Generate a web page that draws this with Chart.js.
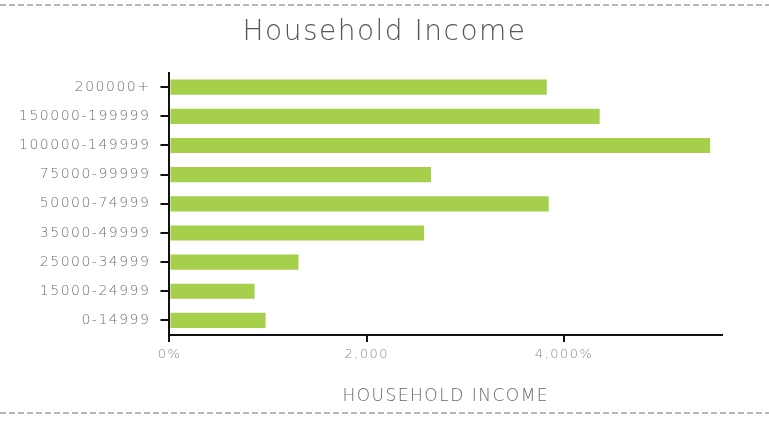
<!DOCTYPE html>
<html>
<head>
<meta charset="utf-8">
<script src="https://cdn.jsdelivr.net/npm/chart.js@4/dist/chart.umd.min.js"></script>
<style>
  html, body { margin: 0; padding: 0; background: #fff; }
  #wrap { width: 769px; height: 422px; }
</style>
</head>
<body>
<div id="wrap"><canvas id="myChart" width="769" height="422"></canvas></div>
<script>
const kategorie = ['200000+', '150000-199999', '100000-149999', '75000-99999', '50000-74999',
                   '35000-49999', '25000-34999', '15000-24999', '0-14999'];
const hodnoty = [3824, 4360, 5480, 2651, 3844, 2580, 1308, 863, 974];
const popiskyX = { 0: '0%', 2000: '2,000', 4000: '4,000%' };

const pismo = 'DejaVu Sans';

// roztazene pismo (letterSpacing) - nastavit pred merenim i kreslenim
const mezeryPlugin = {
    id: 'mezery',
    beforeUpdate(chart) { chart.ctx.letterSpacing = '1.5px'; },
    beforeLayout(chart) { chart.ctx.letterSpacing = '1.5px'; },
    afterLayout(chart) {
        // nadpis na stred celeho platna, ne jen mezi okraji
        if (chart.titleBlock) {
            chart.titleBlock.left = 0;
            chart.titleBlock.right = chart.width;
            chart.titleBlock.width = chart.width;
        }
    },
    beforeDraw(chart) { chart.ctx.letterSpacing = '1.5px'; }
};

// carkovane cary nahore a dole
const carkyPlugin = {
    id: 'carky',
    afterDraw(chart) {
        const c = chart.ctx;
        c.save();
        c.strokeStyle = '#b8b8b8';
        c.lineWidth = 2;
        c.setLineDash([6, 3]);
        [5, 413].forEach(y => {
            c.beginPath();
            c.moveTo(0, y);
            c.lineTo(chart.width, y);
            c.stroke();
        });
        c.restore();
    }
};

const data = {
    labels: kategorie,
    datasets: [{
        label: 'Household Income',
        data: hodnoty,
        backgroundColor: '#a6cf4b',
        borderWidth: 0,
        barPercentage: 0.52,
        categoryPercentage: 1
    }]
};

const options = {
    indexAxis: 'y',
    responsive: false,
    animation: false,
    layout: { padding: { left: 9, right: 47, top: 0, bottom: 12 } },
    plugins: {
        legend: { display: false },
        tooltip: { enabled: false },
        title: {
            display: true,
            text: 'Household Income',
            color: '#555',
            font: { family: pismo, size: 28, weight: '200' },
            padding: { top: 16, bottom: 23 }
        }
    },
    scales: {
        x: {
            min: 0,
            max: 5600,
            afterBuildTicks(axis) {
                axis.ticks = Object.keys(popiskyX).map(v => ({ value: Number(v) }));
            },
            ticks: {
                color: '#888',
                font: { family: pismo, size: 13, weight: '200' },
                padding: 5,
                callback: v => popiskyX[v]
            },
            grid: { drawOnChartArea: false, color: '#111', tickLength: 7, lineWidth: 2 },
            border: { color: '#111', width: 2 },
            title: {
                display: true,
                text: 'HOUSEHOLD INCOME',
                color: '#666',
                font: { family: pismo, size: 17, weight: '200' },
                padding: { top: 19, bottom: 3 }
            }
        },
        y: {
            ticks: {
                color: '#6e6e6e',
                font: { family: pismo, size: 14, weight: '200' },
                padding: 10
            },
            grid: { drawOnChartArea: false, offset: false, color: '#111', tickLength: 9, lineWidth: 2 },
            border: { color: '#111', width: 2 }
        }
    }
};

const config = { type: 'bar', data, options, plugins: [mezeryPlugin, carkyPlugin] };

const ctx = document.getElementById('myChart').getContext('2d');
const myChart = new Chart(ctx, config);
</script>
</body>
</html>
